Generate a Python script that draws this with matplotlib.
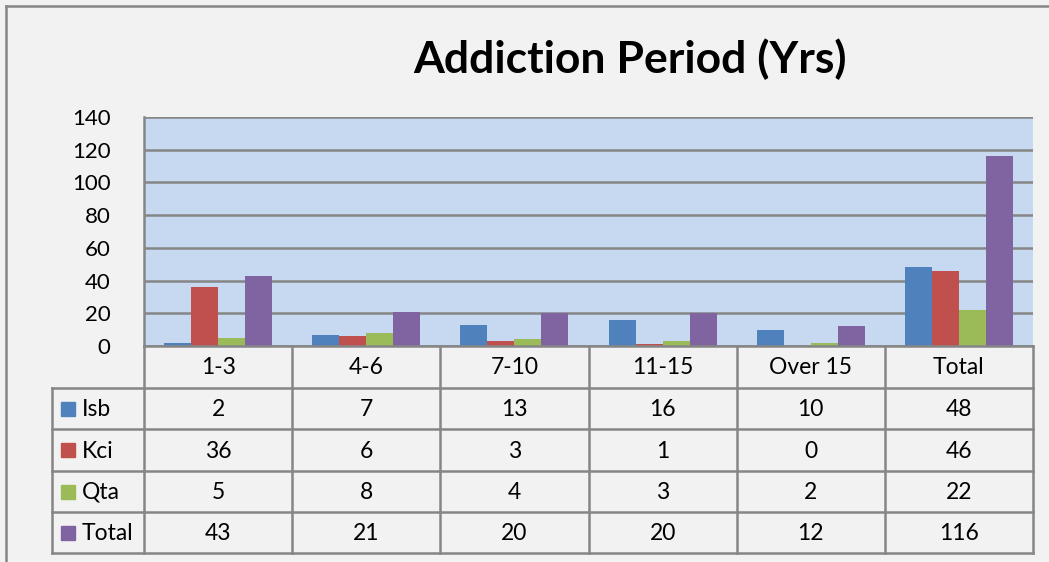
import matplotlib
matplotlib.use("Agg")
import matplotlib.pyplot as plt
import numpy as np
from matplotlib.patches import Rectangle

# ── data ───────────────────────────────────────────────────────────────────────
categories = ["1-3", "4-6", "7-10", "11-15", "Over 15", "Total"]
series_names = ["Isb", "Kci", "Qta", "Total"]
isb = [2, 7, 13, 16, 10, 48]
kci = [36, 6, 3, 1, 0, 46]
qta = [5, 8, 4, 3, 2, 22]
total = [43, 21, 20, 20, 12, 116]
colors = ["#4F81BD", "#C0504D", "#9BBB59", "#8064A2"]
yticks = [0, 20, 40, 60, 80, 100, 120, 140]

# ── layout (pixels) ────────────────────────────────────────────────────────────
W, H = 1049, 562
plot_l, plot_r, plot_t, plot_b = 144, 1033, 117, 346
table_l = 52
row_edges = [346, 388, 429, 471, 512, 553]
grid_col = "#868686"
font = "Lato"

fig = plt.figure(figsize=(W / 100, H / 100), dpi=100)
fig.patch.set_facecolor("#F2F2F2")

ax = fig.add_axes([plot_l / W, 1 - plot_b / H, (plot_r - plot_l) / W, (plot_b - plot_t) / H])
ax.set_facecolor("#C6D9F1")
values = [isb, kci, qta, total]
x = np.arange(len(categories)) + 0.5
bw = 27 / ((plot_r - plot_l) / len(categories))
for i, (vals, c) in enumerate(zip(values, colors)):
    ax.bar(x + (i - 1.5) * bw, vals, width=bw, color=c, zorder=3)
ax.set_xlim(0, len(categories))
ax.set_ylim(0, 140)
ax.set_yticks(yticks)
ax.set_yticklabels([str(t) for t in yticks], fontsize=16, family=font)
ax.tick_params(axis="y", length=0, pad=24)
ax.set_xticks([])
ax.grid(axis="y", color=grid_col, linewidth=1.8, zorder=1)
for s in ["top", "right", "bottom"]:
    ax.spines[s].set_visible(False)
ax.spines["left"].set_color(grid_col)
ax.spines["left"].set_linewidth(1.8)

# ── overlay in pixel coordinates: border, title, data table ──────────────────
ov = fig.add_axes([0, 0, 1, 1], facecolor="none")
ov.set_xlim(0, W)
ov.set_ylim(H, 0)
ov.axis("off")

ov.plot([6, 6], [6, H + 5], color=grid_col, lw=1.8, clip_on=False)
ov.plot([6, W + 5], [6, 6], color=grid_col, lw=1.8, clip_on=False)

ov.text(630, 59, "Addiction Period (Yrs)", ha="center", va="center",
        fontsize=32, fontweight="bold", family=font)

cw = (plot_r - plot_l) / len(categories)
col_edges = [plot_l + k * cw for k in range(len(categories) + 1)]
lw = 1.8
# horizontal lines
ov.plot([plot_l, plot_r], [row_edges[0]] * 2, color=grid_col, lw=lw)
for y in row_edges[1:]:
    ov.plot([table_l, plot_r], [y, y], color=grid_col, lw=lw)
# vertical lines
for xe in col_edges:
    ov.plot([xe, xe], [row_edges[0], row_edges[-1]], color=grid_col, lw=lw)
ov.plot([table_l, table_l], [row_edges[1], row_edges[-1]], color=grid_col, lw=lw)

fs = 16.5
for j, cat in enumerate(categories):
    ov.text((col_edges[j] + col_edges[j + 1]) / 2, (row_edges[0] + row_edges[1]) / 2 + 1,
            cat, ha="center", va="center", fontsize=fs, family=font)
for i, (name, vals, c) in enumerate(zip(series_names, values, colors)):
    yc = (row_edges[i + 1] + row_edges[i + 2]) / 2
    ov.add_patch(Rectangle((61, yc - 7), 14, 14, color=c))
    ov.text(82, yc + 1, name, ha="left", va="center", fontsize=fs, family=font)
    for j, v in enumerate(vals):
        ov.text((col_edges[j] + col_edges[j + 1]) / 2, yc + 1, str(v),
                ha="center", va="center", fontsize=fs, family=font)

fig.savefig("out.png", dpi=100, facecolor=fig.get_facecolor())
